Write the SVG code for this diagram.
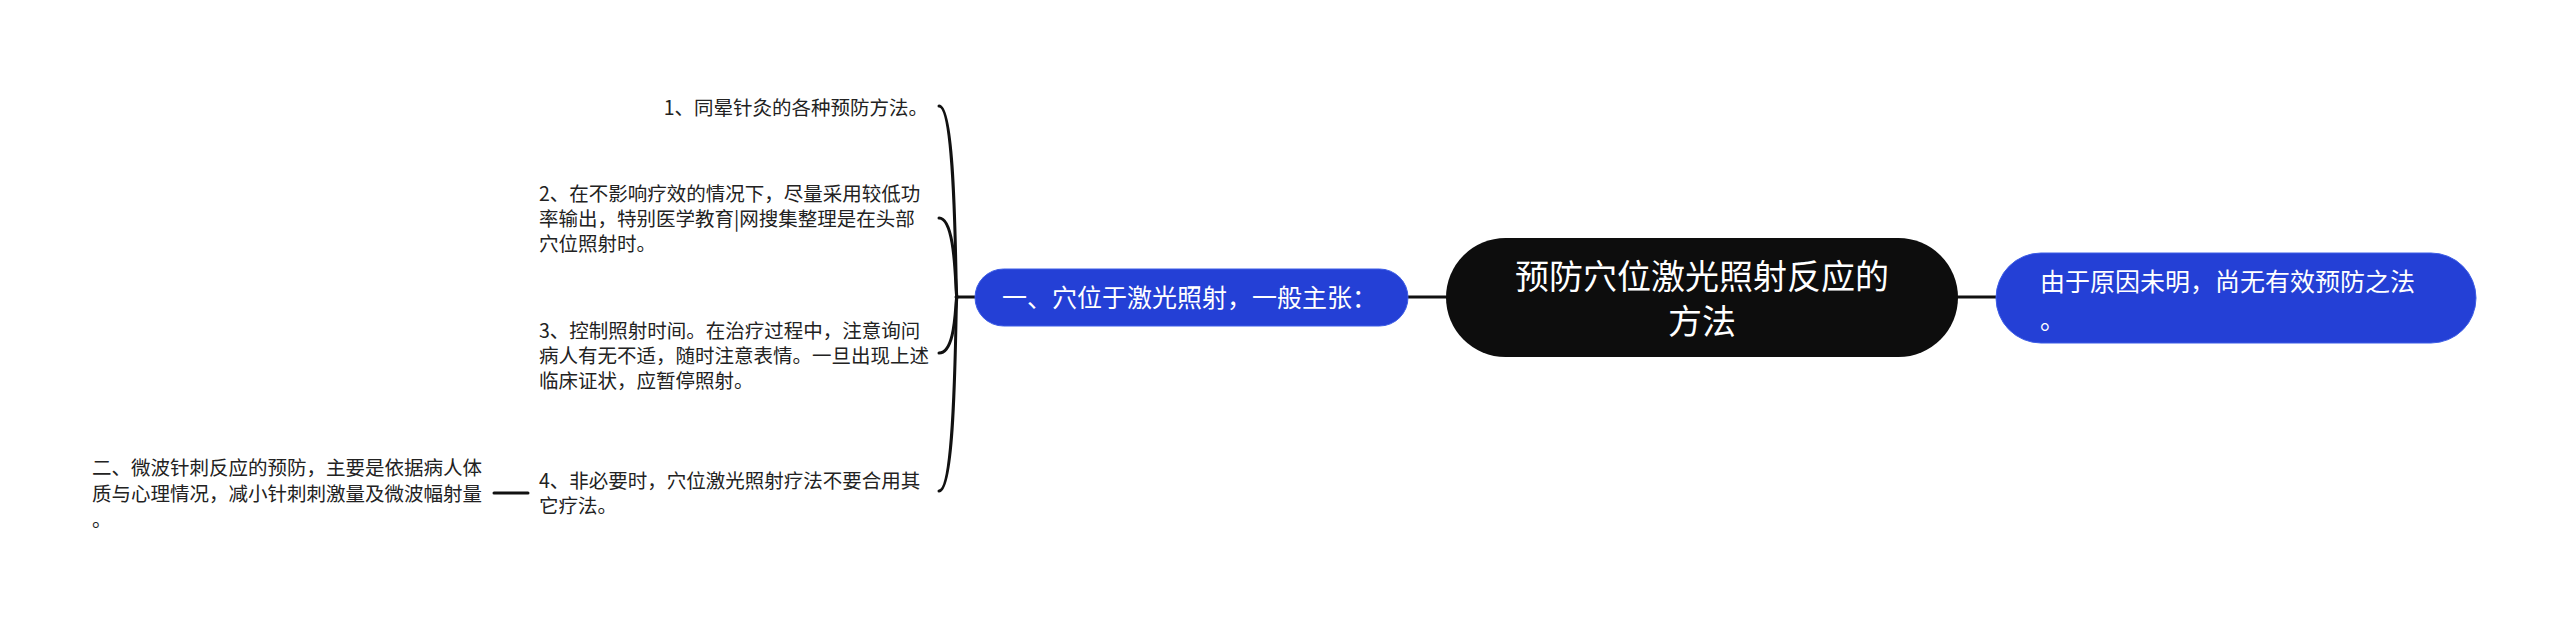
<svg xmlns="http://www.w3.org/2000/svg" width="2560" height="621" viewBox="0 0 2560 621">
<style>
.t{font-family:"Noto Sans CJK SC","Noto Sans",sans-serif;}
.child{font-size:19.5px;fill:#222;}
.blue{fill:#2440D6;stroke:#3d5de6;stroke-width:1;}
.wt{fill:#fff;}
.ln{fill:none;stroke:#111;stroke-width:3;stroke-linecap:round;}
</style>
<rect width="2560" height="621" fill="#fff"/>
<g id="connectors">
<path class="ln" d="M1408 297 L1446 297"/>
<path class="ln" d="M1958 297 L1996 297"/>
<path class="ln" d="M975 297 L956 297"/>
<path class="ln" d="M939 106 C957 106 955 297 957 297"/>
<path class="ln" d="M939 218 C957 218 955 297 957 297"/>
<path class="ln" d="M939 353 C957 353 955 297 957 297"/>
<path class="ln" d="M939 491 C957 491 955 297 957 297"/>
<path class="ln" d="M494 493 L528 493"/>
</g>
<g id="root">
<rect x="1446" y="238" width="512" height="119" rx="59.5" fill="#0d0d0d"/>
<text class="t wt" font-size="34" text-anchor="middle"><tspan x="1702" y="289">预防穴位激光照射反应的</tspan><tspan x="1702" y="334">方法</tspan></text>
</g>
<g id="branch-left">
<rect class="blue" x="975" y="269" width="433" height="57" rx="28.5"/>
<text class="t wt" font-size="25" x="1002" y="307">一、穴位于激光照射，一般主张：</text>
</g>
<g id="branch-right">
<rect class="blue" x="1996" y="253" width="480" height="90" rx="45"/>
<text class="t wt" font-size="25"><tspan x="2040" y="291">由于原因未明，尚无有效预防之法</tspan><tspan x="2040" y="329">。</tspan></text>
</g>
<g id="child-1">
<text class="t child" x="928" y="115" text-anchor="end">1、同晕针灸的各种预防方法。</text>
</g>
<g id="child-2">
<text class="t child"><tspan x="539" y="200.5">2、在不影响疗效的情况下，尽量采用较低功</tspan><tspan x="539" y="225.5">率输出，特别医学教育|网搜集整理是在头部</tspan><tspan x="539" y="250.5">穴位照射时。</tspan></text>
</g>
<g id="child-3">
<text class="t child"><tspan x="539" y="337.5">3、控制照射时间。在治疗过程中，注意询问</tspan><tspan x="539" y="362.5">病人有无不适，随时注意表情。一旦出现上述</tspan><tspan x="539" y="387.5">临床证状，应暂停照射。</tspan></text>
</g>
<g id="child-4">
<text class="t child"><tspan x="539" y="487.5">4、非必要时，穴位激光照射疗法不要合用其</tspan><tspan x="539" y="512.5">它疗法。</tspan></text>
</g>
<g id="child-4-1">
<text class="t child"><tspan x="92" y="474.5">二、微波针刺反应的预防，主要是依据病人体</tspan><tspan x="92" y="500.5">质与心理情况，减小针刺刺激量及微波幅射量</tspan><tspan x="92" y="526.5">。</tspan></text>
</g>
</svg>
